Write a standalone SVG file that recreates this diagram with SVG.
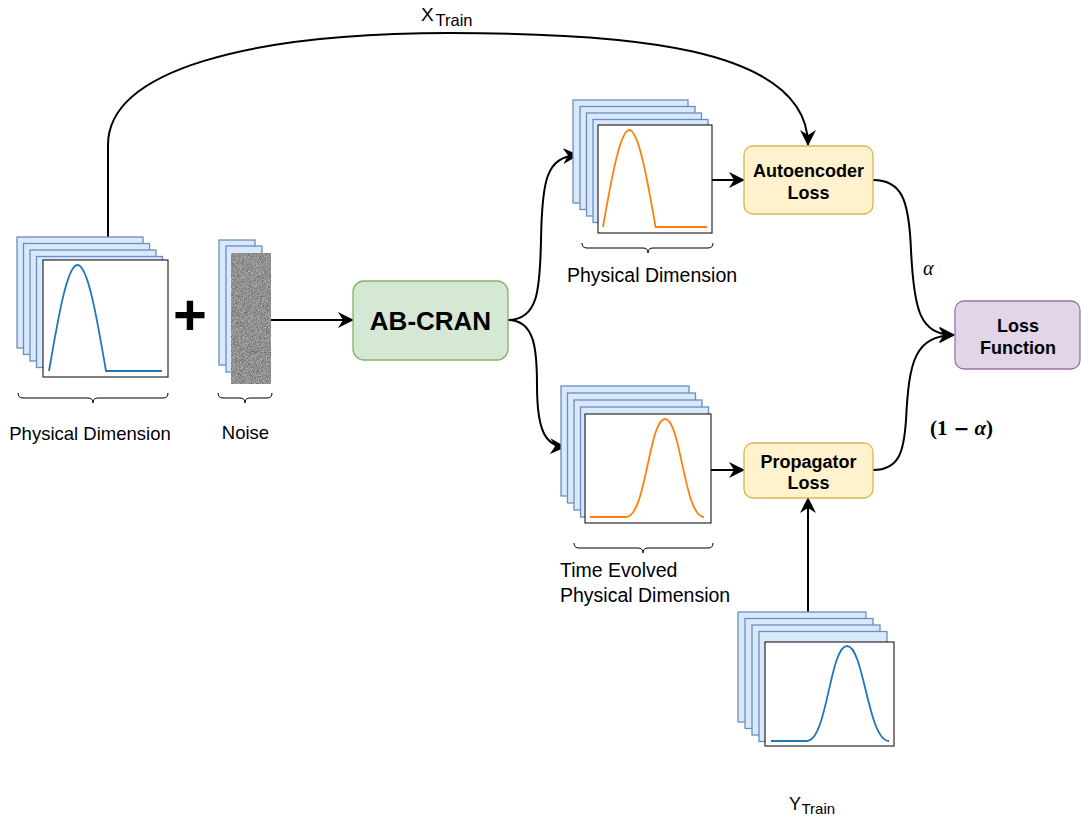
<svg xmlns="http://www.w3.org/2000/svg" width="1081" height="820" viewBox="0 0 1081 820">
<style>
.bg{fill:#dae8fc;stroke:#6c8ebf;stroke-width:1.3}
.wf{fill:#ffffff;stroke:#000000;stroke-width:1}
.c{fill:none;stroke:#000;stroke-width:2}
.br{fill:none;stroke:#000;stroke-width:1}
.lbl{font-family:"Liberation Sans",Arial,sans-serif;fill:#000}
.b{font-family:"Liberation Sans",Arial,sans-serif;font-weight:bold;fill:#000;text-anchor:middle}
.blue{fill:none;stroke:#1f77b4;stroke-width:1.8}
.orange{fill:none;stroke:#ff7f0e;stroke-width:1.8}
</style>
<defs>
<marker id="ar" markerUnits="userSpaceOnUse" markerWidth="16" markerHeight="16" refX="15" refY="8" orient="auto">
<path d="M0,0 L16,8 L0,16 L5,8 z" fill="#000"/>
</marker>
<filter id="noise" x="0" y="0" width="1" height="1" color-interpolation-filters="sRGB">
<feTurbulence type="fractalNoise" baseFrequency="1.2" numOctaves="2" seed="3" result="t"/>
<feColorMatrix in="t" type="matrix" values="0.55 0 0 0 0.29  0.55 0 0 0 0.29  0.55 0 0 0 0.29  0 0 0 0 1" result="g"/>
<feComposite in="g" in2="SourceGraphic" operator="in"/>
</filter>
</defs>
<rect width="1081" height="820" fill="#fff"/>

<g id="connectors">
<path class="c" d="M108,237 L108,145 C108,70 250,33 450,33 C620,33 808,45 808,145" marker-end="url(#ar)"/>
<path class="c" d="M271,320 L353,320" marker-end="url(#ar)"/>
<path class="c" d="M508,320 C538,320 540,290 541,240 C542,180 546,157 578,155" marker-end="url(#ar)"/>
<path class="c" d="M508,320 C535,320 537,350 537,385 C537,430 545,446 565,447" marker-end="url(#ar)"/>
<path class="c" d="M712,180 L744,180" marker-end="url(#ar)"/>
<path class="c" d="M711,470 L744,470" marker-end="url(#ar)"/>
<path class="c" d="M808,612 L808,498" marker-end="url(#ar)"/>
<path class="c" d="M873,180 C902,180 909,200 911,250 C914,312 920,334 954,335" marker-end="url(#ar)"/>
<path class="c" d="M873,470 C900,470 904,450 906,420 C909,360 915,336 954,335" marker-end="url(#ar)"/>
</g>

<g id="labels">
<text class="lbl" x="421" y="21" font-size="19">X</text>
<text class="lbl" x="435.5" y="26" font-size="16.5">Train</text>
<text class="lbl" x="789" y="810" font-size="18">Y</text>
<text class="lbl" x="801.5" y="814" font-size="15">Train</text>
<text x="923" y="275" font-family="'Liberation Serif',serif" font-style="italic" font-size="20">α</text>
<text x="930" y="435" font-family="'Liberation Serif',serif" font-weight="bold" font-size="21">(1<tspan dx="6" font-family="'DejaVu Serif',serif" font-size="19">−</tspan><tspan dx="5" font-style="italic">α</tspan>)</text>
</g>

<g id="input-stack">
<rect class="bg" x="17" y="237" width="126" height="111"/>
<rect class="bg" x="23.5" y="243.5" width="126" height="111"/>
<rect class="bg" x="30" y="250" width="126" height="111"/>
<rect class="bg" x="36.5" y="256.5" width="126" height="111"/>
<rect class="wf" x="43" y="260" width="125" height="117"/>
<path class="blue" d="M49,371 C58.3,316.6 67.2,265 77.5,265 C87.8,265 96.7,316.6 106,371 L162,371"/>
<path class="br" d="M18,393 Q18,398 23,398 L88,398 Q93,398 93,403 Q93,398 98,398 L163,398 Q168,398 168,393"/>
<text class="lbl" x="90" y="440" font-size="18.5" text-anchor="middle">Physical Dimension</text>
</g>

<g id="plus">
<text class="lbl" x="190" y="335" font-size="58" font-weight="bold" text-anchor="middle">+</text>
</g>

<g id="noise-stack">
<rect class="bg" x="219" y="240" width="36" height="125"/>
<rect class="bg" x="226" y="246" width="36" height="126"/>
<rect x="231" y="253" width="40" height="131" fill="#888" filter="url(#noise)"/>
<path class="br" d="M218,393 Q218,398 223,398 L240,398 Q245,398 245,403 Q245,398 250,398 L267,398 Q272,398 272,393"/>
<text class="lbl" x="245.5" y="439" font-size="18.5" text-anchor="middle">Noise</text>
</g>

<g id="abcran">
<rect x="353" y="281" width="155" height="79" rx="11" fill="#d5e8d4" stroke="#82b366" stroke-width="1.3"/>
<text class="b" x="430.5" y="330" font-size="26">AB-CRAN</text>
</g>

<g id="reconstructed-stack">
<rect class="bg" x="573" y="100" width="115" height="103"/>
<rect class="bg" x="580" y="106.5" width="115" height="103"/>
<rect class="bg" x="586.5" y="113" width="115" height="103"/>
<rect class="bg" x="593" y="119.5" width="115" height="103"/>
<rect class="wf" x="598" y="125" width="114" height="108"/>
<path class="orange" d="M603,227 C611.6,177.3 620.3,130 629.3,130 C638.3,130 647,177.3 655.6,227 L707,227"/>
<path class="br" d="M582,243 Q582,248 587,248 L643,248 Q648,248 648,253 Q648,248 653,248 L708,248 Q713,248 713,243"/>
<text class="lbl" x="652" y="282" font-size="19.5" text-anchor="middle">Physical Dimension</text>
</g>

<g id="evolved-stack">
<rect class="bg" x="561" y="386" width="128" height="110"/>
<rect class="bg" x="567.5" y="393" width="128" height="110"/>
<rect class="bg" x="574" y="400" width="128" height="110"/>
<rect class="bg" x="580.5" y="407" width="128" height="110"/>
<rect class="wf" x="585" y="414" width="126" height="109"/>
<path class="orange" d="M590,517 L626,517 C646,517 649,419 665,419 C681,419 684,517 704,517"/>
<path class="br" d="M574,543 Q574,548 579,548 L638,548 Q643,548 643,553 Q643,548 648,548 L708,548 Q713,548 713,543"/>
<text class="lbl" x="560" y="577" font-size="19.5">Time Evolved</text>
<text class="lbl" x="560" y="602" font-size="19.5">Physical Dimension</text>
</g>

<g id="autoencoder-loss">
<rect x="744" y="146" width="129" height="68" rx="9" fill="#fff2cc" stroke="#d6b656" stroke-width="1.3"/>
<text class="b" x="808.5" y="177" font-size="18">Autoencoder</text>
<text class="b" x="808.5" y="199" font-size="18">Loss</text>
</g>

<g id="propagator-loss">
<rect x="744" y="443" width="129" height="55" rx="9" fill="#fff2cc" stroke="#d6b656" stroke-width="1.3"/>
<text class="b" x="808.5" y="468" font-size="18">Propagator</text>
<text class="b" x="808.5" y="489" font-size="18">Loss</text>
</g>

<g id="loss-function">
<rect x="955" y="301" width="125" height="68" rx="9" fill="#e1d5e7" stroke="#9673a6" stroke-width="1.3"/>
<text class="b" x="1018" y="332" font-size="18">Loss</text>
<text class="b" x="1018" y="354" font-size="18">Function</text>
</g>

<g id="target-stack">
<rect class="bg" x="738" y="612" width="128" height="110"/>
<rect class="bg" x="745" y="618.5" width="128" height="110"/>
<rect class="bg" x="752" y="625" width="128" height="110"/>
<rect class="bg" x="759" y="631.5" width="128" height="110"/>
<rect class="wf" x="765" y="642" width="129" height="104"/>
<path class="blue" d="M771,741 L807,741 C827,741 830,646 847,646 C864,646 868,741 889,741"/>
</g>
</svg>
